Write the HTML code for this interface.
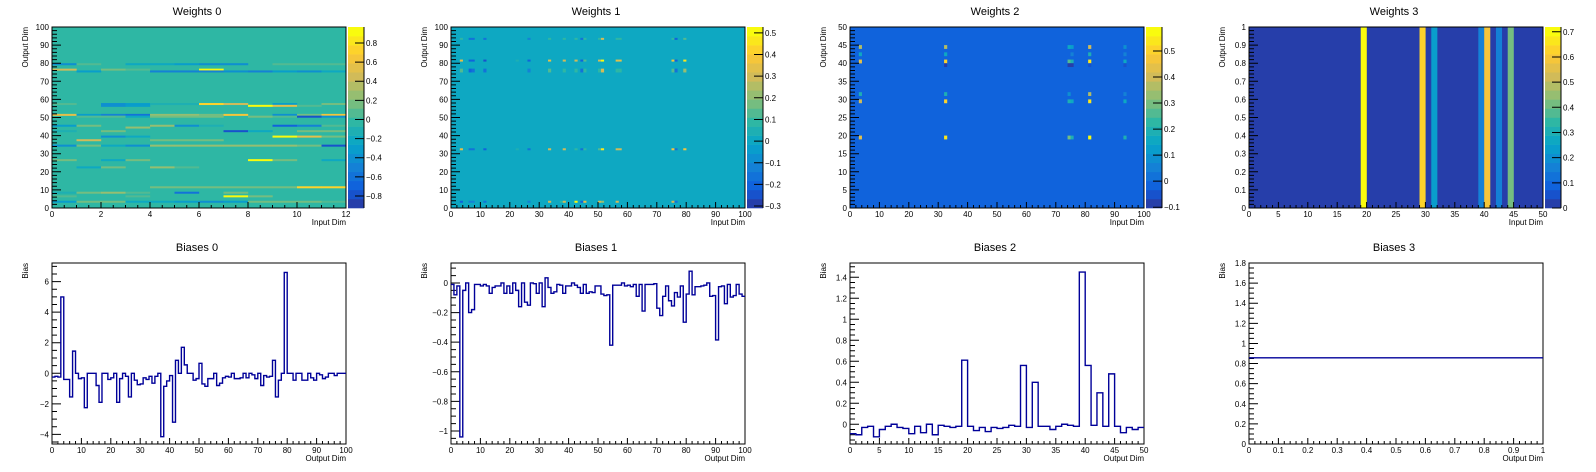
<!DOCTYPE html>
<html><head><meta charset="utf-8">
<style>
html,body{margin:0;padding:0;background:#fff;}
svg{display:block;font-family:"Liberation Sans",Arial,sans-serif;}
</style></head>
<body>
<svg id="root" width="1596" height="472" viewBox="0 0 1596 472" xmlns="http://www.w3.org/2000/svg"></svg>
<script>
// ---------- DATA ----------
const w0Rows = [
 [79,[-0.4,0.1,0,-0.2,-0.2,-0.3,-0.4,-0.4,0,0.1,0.1,0.1]],
 [76,[0.4,0,0.2,0.05,0,0,0.9,0,0,0,0,0]],
 [75,[0,-0.3,0,0,-0.5,-0.5,-0.5,-0.4,-0.5,-0.3,-0.4,-0.2]],
 [57,[0.1,0,-0.4,-0.3,-0.1,-0.1,0.7,0.4,0,-0.3,0,0.2]],
 [56,[0,0,-0.4,-0.3,0,0,0,0,1.0,0.5,0.1,0]],
 [51,[0.5,-0.3,-0.5,-0.6,0.3,0.3,0.2,0.6,0,-0.4,0.2,0.6]],
 [50,[0,0.1,0.1,-0.2,0.15,0.15,0.15,0,0.15,0.05,-0.8,-0.4]],
 [45,[-0.3,0.15,0,0,0.3,-0.4,-0.1,0,0,-0.7,-0.5,0.1]],
 [44,[0,0,0,0.3,0,0,0,0,0,0,0,0]],
 [42,[-0.1,0,0.2,0,0,0,0,-0.8,-0.2,0,0.2,0.2]],
 [39,[0,0,-0.4,-0.2,0,0,0,0,0,1.0,0.5,0.2]],
 [37,[0,0.4,0,0,0.15,0.15,0.15,0,0,0,0,0]],
 [34,[-0.4,0.2,-0.2,-0.4,0.3,0.3,0.3,0.3,0.3,0.3,0.2,-0.8]],
 [26,[0.15,0,-0.2,0.15,0,0,0,0,1.0,0.2,0,-0.2]],
 [22,[0,-0.2,0.15,0,0.25,0.1,0,0,0,0,0,0]],
 [11,[0,0,0,0,0.2,0.2,0.2,0.2,0.2,0.2,0.7,0.7]],
 [8,[-0.1,0.15,0.25,0.1,0,-0.6,0,0.2,0,0,0,0]],
 [6,[0.1,0,0,0.1,0,0,0,0.9,0.2,0,0,0]],
 [3,[-0.3,0.15,0.15,-0.2,-0.2,-0.3,-0.4,-0.3,0.15,0.15,0.2,0.1]]
];
const w1Cols = [3,6,7,11,22,26,33,37,38,42,44,45,50,51,56,57,75,76,79];
const w1Rows = [
 [93,[0.1,-0.15,-0.15,-0.15,0,-0.1,0.1,0,0.1,0.1,-0.15,0.1,0.1,0.3,0.1,0.1,0.1,-0.2,0.15]],
 [81,[0.35,-0.2,-0.2,-0.25,0.05,-0.2,0.35,0,0.3,0.3,-0.2,0.15,0.3,0.5,0.35,0.35,0.4,-0.2,0.45]],
 [76,[0.15,-0.2,-0.15,-0.15,0,-0.1,0.15,0,0.1,0.1,-0.15,0.1,0.1,0.3,0.1,0.1,0.15,-0.15,0.2]],
 [75,[0.15,-0.2,-0.15,-0.15,0,-0.1,0.15,0,0.1,0.1,-0.15,0.1,0.1,0.3,0.1,0.1,0.15,-0.15,0.2]],
 [32,[0.35,-0.15,-0.15,-0.2,0.05,-0.15,0.3,0,0.3,0.1,-0.15,0.1,0.15,0.45,0.3,0.3,0.4,-0.15,0.4]],
 [3,[-0.2,-0.1,-0.1,-0.15,0,-0.1,0.3,0.1,0.3,0.5,-0.2,0.35,0.3,0.2,0.3,0,0.3,-0.15,0]]
];
const w2Cols = [3,32,74,75,81,93];
const w2Rows = [
 [44,[0.35,0.35,0.15,0.12,0.4,0.1]],
 [42,[0.15,0.15,0,0.05,0.2,0.05]],
 [40,[0.45,0.5,0.25,0.2,0.55,0.15]],
 [39,[0,-0.08,-0.08,-0.08,-0.06,-0.06]],
 [31,[0.2,0.2,0.1,0,0.35,0.07]],
 [29,[0.4,0.5,0.2,0.15,0.55,0.15]],
 [19,[0.45,0.55,0.3,0.2,0.6,0.2]]
];
const w3Cols = [19,29,31,39,40,42,44];
const w3Vals = [0.72,0.62,0.25,0.15,0.6,0.15,0.4];

const b0 = [-0.25,-0.2,-0.25,5.0,-0.4,-0.4,-1.55,1.45,0,-0.35,-0.3,-2.25,0,0,0,-0.8,-1.9,0,0,-0.4,
 -0.3,0,-1.9,-0.35,0,-0.2,-1.55,0,-0.45,-0.75,-0.7,-0.3,-0.4,-0.2,-0.65,-0.2,0,-4.15,-0.85,-0.5,
 -0.15,-3.2,0.85,0,1.7,0.55,0,0,-0.45,-0.35,0.65,-0.7,-0.85,-0.35,-0.35,0,-0.8,-0.65,-0.3,-0.2,
 -0.25,0,-0.35,-0.35,-0.3,0,-0.3,0,-0.1,-0.35,0,-0.8,-0.15,-0.25,-0.2,0.85,-1.55,-0.45,0,6.6,
 0,0,-0.45,0,0,-0.45,-0.45,0,-0.3,-0.45,0,-0.1,-0.35,-0.25,0,0,-0.15,0,0,0];
const b1 = [-0.01,-0.08,-0.02,-1.04,-0.05,0,-0.2,-0.18,-0.01,-0.01,-0.02,-0.01,-0.02,-0.07,-0.03,-0.02,-0.02,0,-0.07,-0.02,
 -0.07,0,-0.05,-0.16,0,-0.13,-0.15,0,-0.005,-0.07,0,-0.16,0.035,-0.03,-0.07,-0.06,-0.01,-0.015,-0.07,-0.02,
 -0.02,0,-0.015,-0.03,-0.07,-0.01,-0.07,-0.06,-0.065,-0.02,-0.02,-0.075,-0.085,-0.08,-0.42,-0.015,-0.015,-0.015,0,-0.02,
 -0.015,-0.025,-0.01,-0.09,-0.01,-0.19,-0.01,-0.01,-0.01,-0.005,-0.17,-0.22,-0.09,-0.02,-0.12,-0.155,-0.065,-0.095,-0.02,-0.265,
 -0.075,0.08,-0.08,-0.025,-0.025,-0.02,-0.015,0,-0.09,-0.085,-0.385,-0.025,-0.02,-0.14,-0.01,-0.095,-0.085,-0.01,-0.075,-0.09];
const b2 = [-0.09,-0.1,-0.03,-0.02,-0.12,-0.05,-0.02,0,-0.03,-0.04,-0.09,-0.02,-0.08,0,-0.1,-0.01,-0.02,-0.03,-0.02,0.61,
 -0.02,-0.06,-0.03,-0.07,-0.03,-0.04,-0.03,-0.01,-0.02,0.56,-0.03,0.4,-0.02,-0.02,-0.05,-0.02,0,-0.01,-0.02,1.45,
 0.56,-0.01,0.3,-0.02,0.48,-0.02,-0.08,-0.03,-0.05,-0.03];
const b3 = [0.857];

// ---------- HELPERS ----------
const NS = "http://www.w3.org/2000/svg";
const root = document.getElementById('root');
function el(tag, attrs, parent){ const e=document.createElementNS(NS,tag); for(const k in attrs) e.setAttribute(k,attrs[k]); (parent||root).appendChild(e); return e; }
const birdStops=[0,.125,.25,.375,.5,.625,.75,.875,1];
const birdR=[0.2082,0.0592,0.0780,0.0232,0.1802,0.5301,0.8186,0.9956,0.9764];
const birdG=[0.1664,0.3599,0.5041,0.6419,0.7178,0.7492,0.7328,0.7862,0.9832];
const birdB=[0.5293,0.8684,0.8385,0.7914,0.6425,0.4662,0.3499,0.1968,0.0539];
function bird(t){ t=Math.max(0,Math.min(1,t)); let i=0; while(i<7&&t>birdStops[i+1])i++;
 const f=(t-birdStops[i])/(birdStops[i+1]-birdStops[i]);
 const c=a=>Math.round(255*(a[i]+(a[i+1]-a[i])*f));
 return `rgb(${c(birdR)},${c(birdG)},${c(birdB)})`; }
function bandColor(k){ return bird((k+1)/20); }
function zColor(v,zmin,zmax){ let k=Math.floor((v-zmin)/(zmax-zmin)*20); k=Math.max(0,Math.min(19,k)); return bandColor(k); }
function fmt(v,dec){ let s=(+v.toFixed(dec)).toString(); return s.replace('-','\u2212'); }

const FX0=52, FW=294, STRIDE=399;
function frame(i,row){ const x0=FX0+STRIDE*i; const y0=row===0?27:263; return {x0:x0,x1:x0+FW,y0:y0,y1:y0+181}; }

function axes(g,f,xr,yr,xMaj,xMin,yMaj,yMin,xDec,yDec){
 const sx=v=>f.x0+(v-xr[0])/(xr[1]-xr[0])*FW, sy=v=>f.y1-(v-yr[0])/(yr[1]-yr[0])*(f.y1-f.y0);
 let p='';
 for(let v=Math.ceil(xr[0]/xMin-1e-6)*xMin; v<=xr[1]+1e-9; v+=xMin){
   const maj=Math.abs(v/xMaj-Math.round(v/xMaj))<1e-6; const x=sx(v);
   p+=`M${x} ${f.y1}V${f.y1-(maj?6:3)}`;
   if(maj){ const t=el('text',{x:x,y:f.y1+9,'font-size':8,'text-anchor':'middle',fill:'#000'},g); t.textContent=fmt(v,xDec);
       }
 }
 for(let v=Math.ceil(yr[0]/yMin-1e-6)*yMin; v<=yr[1]+1e-9; v+=yMin){
   const maj=Math.abs(v/yMaj-Math.round(v/yMaj))<1e-6; const y=sy(v);
   p+=`M${f.x0} ${y}H${f.x0+(maj?9:5)}`;
   if(maj){ const t=el('text',{x:f.x0-3,y:y+3,'font-size':8,'text-anchor':'end',fill:'#000'},g); t.textContent=fmt(v,yDec);
       }
 }
 const tk=el('path',{d:p,stroke:'#000','stroke-width':1,fill:'none'},g);
  
 const fr=el('rect',{x:f.x0,y:f.y0,width:FW,height:f.y1-f.y0,fill:'none',stroke:'#000','stroke-width':1},g);
  
 return {sx:sx,sy:sy};
}
function titles(g,f,title,xt,yt){
 const t=el('text',{x:(f.x0+f.x1)/2-2,y:f.y0-12,'font-size':11,'text-anchor':'middle',fill:'#000'},g); t.textContent=title;
  
 const xa=el('text',{x:f.x1,y:f.y1+17,'font-size':8,'text-anchor':'end',fill:'#000'},g); xa.textContent=xt;
  
 const yx=f.x0-24;
 const ya=el('text',{x:0,y:0,'font-size':8,'text-anchor':'end',fill:'#000',transform:`translate(${yx},${f.y0}) rotate(-90)`},g); ya.textContent=yt;
  
}
function colorbar(g,f,zmin,zmax,step,dec){
 const bx=f.x1+2, bw=16, h=f.y1-f.y0;
 for(let k=0;k<20;k++){ const r=el('rect',{x:bx,y:f.y1-(k+1)*h/20,width:bw,height:h/20+0.3,fill:bandColor(k)},g);
     }
 let p=`M${bx+bw} ${f.y0}V${f.y1}`;
 for(let v=Math.ceil(zmin/step-1e-6)*step; v<=zmax+1e-9; v+=step){
   const y=f.y1-(v-zmin)/(zmax-zmin)*h; p+=`M${bx+bw} ${y}H${bx+bw-9}`;
   const t=el('text',{x:bx+bw+2,y:y+3,'font-size':8,fill:'#000'},g); t.textContent=fmt(v,dec);
    
 }
 const pp=el('path',{d:p,stroke:'#000','stroke-width':1,fill:'none'},g);
  
}
function heat(i,title,nx,ny,zmin,zmax,cells,xMaj,xMin,yMaj,yMin,yDec,zStep,zDec){
 const g=el('g',{});  
 const f=frame(i,0);
 const bg=el('rect',{x:f.x0,y:f.y0,width:FW,height:181,fill:zColor(0,zmin,zmax)},g);
  
 const cw=FW/nx, ch=181/ny;
 cells.forEach(c=>{ if(c[2]===0) return;
   const r=el('rect',{x:f.x0+c[0]*cw,y:f.y1-(c[1]+1)*ch,width:cw+0.2,height:ch+0.2,fill:zColor(c[2],zmin,zmax)},g);
     });
 axes(g,f,[0,nx],[0,ny],xMaj,xMin,yMaj,yMin,0,yDec);
 colorbar(g,f,zmin,zmax,zStep,zDec);
 titles(g,f,title,'Input Dim','Output Dim');
}
function hist(i,title,vals,xr,yr,xMaj,xMin,yMaj,yMin,xDec,yDec){
 const g=el('g',{});  
 const f=frame(i,1);
 const a=axes(g,f,xr,yr,xMaj,xMin,yMaj,yMin,xDec,yDec);
 const bw=(xr[1]-xr[0])/vals.length;
 let d=`M${a.sx(xr[0])} ${a.sy(vals[0])}`;
 vals.forEach((v,k)=>{ d+=`V${a.sy(v)}H${a.sx(xr[0]+(k+1)*bw)}`; });
 const p=el('path',{d:d,stroke:'#000099','stroke-width':1.4,fill:'none'},g);
  
 titles(g,f,title,'Output Dim','Bias');
}
const c0=[]; w0Rows.forEach(r=>r[1].forEach((v,x)=>c0.push([x,r[0],v])));
const c1=[]; w1Rows.forEach(r=>r[1].forEach((v,k)=>c1.push([w1Cols[k],r[0],v])));
const c2=[]; w2Rows.forEach(r=>r[1].forEach((v,k)=>c2.push([w2Cols[k],r[0],v])));
const c3=[]; w3Vals.forEach((v,k)=>c3.push([w3Cols[k],0,v]));

heat(0,'Weights 0',12,100,-0.926,0.967,c0,2,0.5,10,2,0,0.2,1);
heat(1,'Weights 1',100,100,-0.309,0.527,c1,10,2,10,2,0,0.1,1);
heat(2,'Weights 2',100,50,-0.103,0.592,c2,10,2,5,1,0,0.1,1);
heat(3,'Weights 3',50,1,0,0.719,c3,5,1,0.1,0.02,1,0.1,1);
hist(0,'Biases 0',b0,[0,100],[-4.63,7.22],10,2,2,0.5,0,0);
hist(1,'Biases 1',b1,[0,100],[-1.088,0.135],10,2,0.2,0.05,0,1);
hist(2,'Biases 2',b2,[0,50],[-0.188,1.536],5,1,0.2,0.05,0,1);
hist(3,'Biases 3',b3,[0,1],[0,1.8],0.1,0.02,0.2,0.05,1,1);
</script>
</body></html>
